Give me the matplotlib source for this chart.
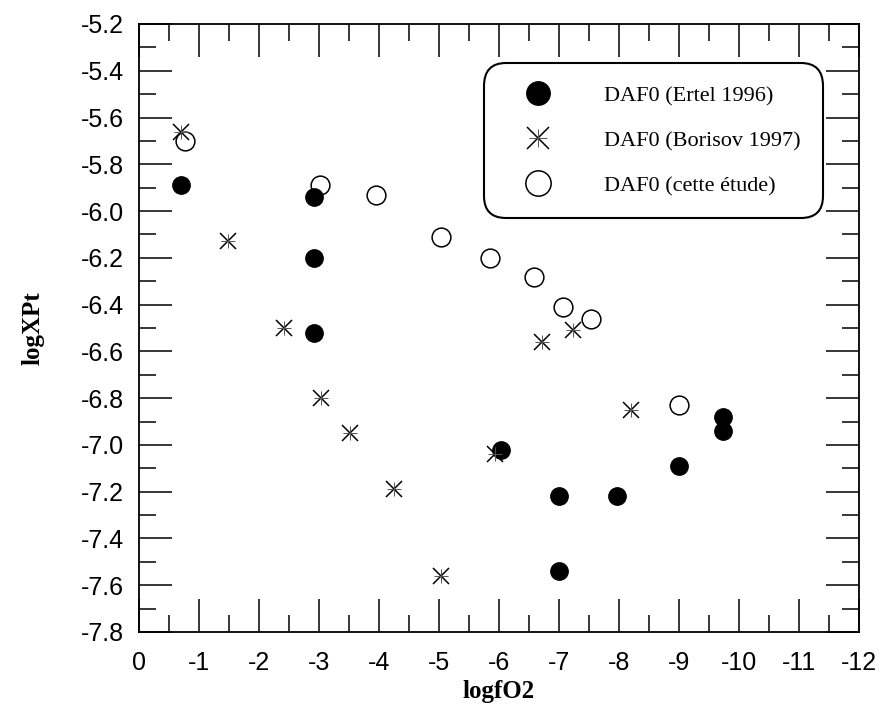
import matplotlib
matplotlib.use("Agg")
import matplotlib.pyplot as plt
from matplotlib.legend_handler import HandlerTuple
from matplotlib.ticker import MultipleLocator, FormatStrFormatter

plt.rcParams["axes.unicode_minus"] = False

# DAF0 (Ertel 1996)
ertel_fo2 = [-0.70, -2.92, -2.92, -2.92, -6.03, -7.00, -7.96, -7.00, -9.00, -9.73, -9.73]
ertel_xpt = [-5.89, -5.94, -6.20, -6.52, -7.02, -7.22, -7.22, -7.54, -7.09, -6.88, -6.94]

# DAF0 (Borisov 1997)
borisov_fo2 = [-0.70, -1.49, -2.41, -3.04, -3.52, -4.25, -5.03, -5.93, -6.71, -7.23, -8.20]
borisov_xpt = [-5.66, -6.13, -6.50, -6.80, -6.95, -7.19, -7.56, -7.04, -6.56, -6.51, -6.85]

# DAF0 (cette étude)
etude_fo2 = [-0.77, -3.02, -3.95, -5.03, -5.85, -6.59, -7.07, -7.54, -9.00]
etude_xpt = [-5.70, -5.89, -5.93, -6.11, -6.20, -6.28, -6.41, -6.46, -6.83]

labels = ["DAF0 (Ertel 1996)", "DAF0 (Borisov 1997)", "DAF0 (cette étude)"]

fig = plt.figure(figsize=(8.82, 7.07), dpi=100)
ax = fig.add_axes([0.1576, 0.1061, 0.8164, 0.8600])

h_ertel, = ax.plot(ertel_fo2, ertel_xpt, ls="none", marker="o", ms=12.5,
                   mfc="black", mec="black", zorder=3)
h_bx, = ax.plot(borisov_fo2, borisov_xpt, ls="none", marker="x", ms=12,
                mec="black", mew=1.1, zorder=3)
h_bp, = ax.plot(borisov_fo2, borisov_xpt, ls="none", marker="+", ms=10,
                mec="#555555", mew=0.7, zorder=3)
h_etude, = ax.plot(etude_fo2, etude_xpt, ls="none", marker="o", ms=13.5,
                   mfc="white", mec="black", mew=1.1, zorder=2)

ax.set_xlim(0, -12)
ax.set_ylim(-7.8, -5.2)
ax.xaxis.set_major_locator(MultipleLocator(1))
ax.xaxis.set_minor_locator(MultipleLocator(0.5))
ax.yaxis.set_major_locator(MultipleLocator(0.2))
ax.yaxis.set_minor_locator(MultipleLocator(0.1))
ax.xaxis.set_major_formatter(FormatStrFormatter("%d"))
ax.yaxis.set_major_formatter(FormatStrFormatter("%.1f"))

ax.tick_params(which="both", direction="in", top=True, right=True, width=1.1)
ax.tick_params(which="major", length=23.5, labelsize=18)
ax.tick_params(axis="x", which="major", pad=14)
ax.tick_params(axis="y", which="major", pad=11)
ax.tick_params(which="minor", length=12)
for lab in ax.get_xticklabels() + ax.get_yticklabels():
    lab.set_family("Liberation Sans")
for sp in ax.spines.values():
    sp.set_linewidth(1.3)

ax.set_xlabel("logfO2", family="Liberation Serif", weight="bold", fontsize=18, labelpad=3)
ax.set_ylabel("logXPt", family="Liberation Serif", weight="bold", fontsize=18, labelpad=26)

leg = ax.legend([h_ertel, (h_bx, h_bp), h_etude], labels,
                handler_map={tuple: HandlerTuple(ndivide=1)},
                loc="upper right", bbox_to_anchor=(0.95, 0.935),
                prop={"family": "Liberation Serif", "size": 16},
                markerscale=1.35,
                frameon=True, fancybox=True, borderpad=1.0, labelspacing=1.1,
                handlelength=2.8, handletextpad=1.6, borderaxespad=0)
frame = leg.get_frame()
frame.set_edgecolor("black")
frame.set_linewidth(1.5)
frame.set_alpha(None)
frame.set_facecolor("white")
frame.set_boxstyle("round", pad=0, rounding_size=1.0)

fig.savefig("out.png", dpi=100)
